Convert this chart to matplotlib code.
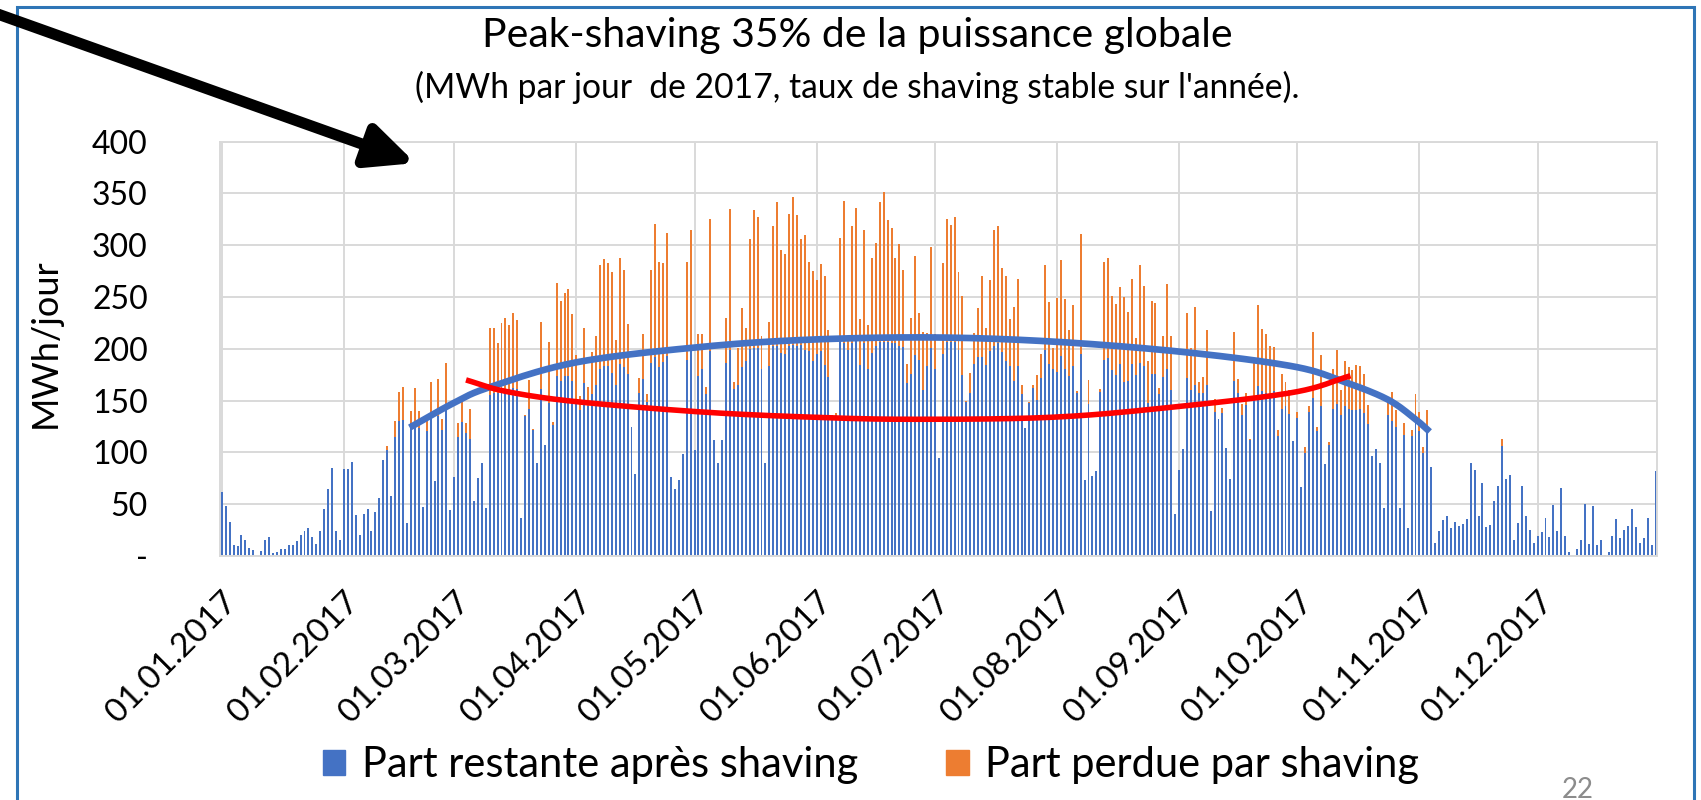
import numpy as np
import matplotlib
matplotlib.use("Agg")
import matplotlib.pyplot as plt
from matplotlib.patches import Rectangle, FancyArrowPatch, Patch

plt.rcParams['font.family'] = ['Lato', 'DejaVu Sans']

# daily values, MWh/jour, one list per month
restante = [
    # jan
    62, 48, 33, 11, 10, 20, 15, 8, 6, 0, 5, 15, 18, 3, 4, 7, 7, 11, 11, 14, 20, 24, 27, 18, 12, 24, 45, 65, 85, 24, 15,
    # feb
    84, 84, 91, 40, 20, 41, 45, 24, 42, 56, 93, 102, 58, 115, 130, 131, 32, 128, 128, 124, 47, 121, 135, 72, 135, 122, 141, 44,
    # mar
    76, 115, 129, 119, 113, 53, 75, 90, 46, 155, 157, 157, 157, 158, 161, 162, 161, 37, 135, 142, 122, 90, 161, 107, 148, 126, 174, 169, 174, 174, 169,
    # apr
    149, 141, 167, 145, 156, 165, 181, 183, 183, 177, 165, 185, 182, 176, 125, 79, 157, 171, 149, 186, 192, 182, 187, 193, 76, 65, 73, 98, 189, 198,
    # may
    102, 174, 181, 156, 198, 112, 90, 112, 186, 199, 161, 165, 182, 188, 200, 201, 201, 181, 90, 183, 203, 203, 196, 195, 203, 204, 203, 204, 199, 198, 188,
    # jun
    195, 198, 184, 173, 136, 136, 207, 206, 199, 206, 210, 184, 206, 181, 196, 203, 207, 207, 207, 206, 206, 203, 202, 167, 176, 194, 189, 160, 183, 201,
    # jul
    181, 95, 195, 207, 207, 207, 199, 175, 149, 157, 185, 192, 192, 184, 198, 203, 206, 197, 188, 183, 169, 183, 156, 124, 148, 162, 151, 172, 199, 185, 181,
    # aug
    178, 193, 181, 174, 183, 157, 195, 73, 147, 77, 82, 158, 189, 191, 180, 175, 185, 168, 169, 185, 175, 186, 183, 148, 176, 176, 156, 173, 181, 160, 41,
    # sep
    83, 103, 172, 160, 165, 157, 157, 165, 43, 139, 132, 138, 104, 74, 169, 157, 136, 146, 112, 154, 164, 159, 157, 154, 159, 116, 142, 145, 137, 111,
    # oct
    133, 67, 99, 139, 153, 121, 145, 89, 107, 142, 147, 136, 145, 142, 141, 141, 142, 138, 127, 97, 103, 90, 46, 136, 130, 125, 46, 117, 27, 116, 128,
    # nov
    121, 99, 119, 86, 13, 24, 35, 39, 27, 33, 29, 31, 36, 90, 83, 39, 70, 28, 30, 53, 68, 106, 74, 78, 15, 32, 68, 39, 25, 13,
    # dec
    19, 23, 37, 18, 49, 24, 66, 19, 4, 0, 7, 15, 50, 12, 48, 11, 15, 1, 4, 19, 36, 17, 25, 29, 45, 28, 13, 17, 37, 11, 82,
]
perdue = [
    # jan
    0, 0, 0, 0, 0, 0, 0, 0, 0, 0, 0, 0, 0, 0, 0, 0, 0, 0, 0, 0, 0, 0, 0, 0, 0, 0, 0, 0, 0, 0, 0,
    # feb
    0, 0, 0, 0, 0, 0, 0, 0, 0, 0, 0, 4, 0, 15, 28, 32, 0, 12, 34, 16, 0, 11, 33, 0, 36, 10, 45, 0,
    # mar
    0, 13, 20, 9, 29, 0, 0, 0, 0, 65, 63, 49, 68, 72, 62, 73, 67, 0, 1, 28, 1, 0, 65, 0, 59, 3, 90, 77, 80, 84, 65,
    # apr
    45, 13, 53, 18, 41, 47, 100, 104, 100, 97, 44, 103, 94, 48, 0, 0, 15, 43, 7, 90, 129, 102, 96, 119, 0, 0, 0, 0, 95, 117,
    # may
    0, 40, 33, 7, 127, 0, 0, 0, 44, 136, 7, 36, 57, 32, 106, 133, 126, 31, 0, 43, 116, 139, 99, 97, 127, 143, 126, 102, 111, 86, 87,
    # jun
    71, 84, 86, 45, 0, 2, 100, 137, 13, 113, 126, 45, 109, 42, 92, 99, 135, 144, 117, 111, 82, 98, 74, 18, 54, 96, 46, 56, 32, 97,
    # jul
    33, 0, 88, 118, 113, 120, 75, 76, 1, 20, 30, 47, 78, 36, 68, 112, 113, 81, 82, 46, 71, 84, 9, 0, 1, 3, 24, 23, 82, 60, 20,
    # aug
    71, 93, 67, 44, 59, 2, 116, 0, 23, 0, 0, 3, 95, 97, 71, 68, 75, 82, 67, 82, 35, 95, 78, 40, 70, 68, 6, 39, 82, 52, 0,
    # sep
    0, 0, 63, 41, 75, 11, 16, 53, 0, 13, 0, 5, 0, 0, 47, 14, 11, 11, 1, 36, 78, 60, 57, 49, 43, 6, 34, 23, 23, 0,
    # oct
    6, 0, 6, 6, 63, 4, 49, 0, 3, 39, 52, 24, 43, 40, 39, 43, 41, 38, 19, 0, 0, 0, 0, 17, 28, 16, 0, 11, 0, 6, 28,
    # nov
    18, 6, 22, 0, 0, 0, 0, 0, 0, 0, 0, 0, 0, 0, 0, 0, 0, 0, 0, 0, 0, 7, 0, 0, 0, 0, 0, 0, 0, 0,
    # dec
    0, 0, 0, 0, 0, 0, 0, 0, 0, 0, 0, 0, 0, 0, 0, 0, 0, 0, 0, 0, 0, 0, 0, 0, 0, 0, 0, 0, 0, 0, 0,
]
month_start = [0, 31, 59, 90, 120, 151, 181, 212, 243, 273, 304, 334]
month_labels = ['01.%02d.2017' % m for m in range(1, 13)]
y_ticks = [0, 50, 100, 150, 200, 250, 300, 350, 400]

# hand drawn trend curves (day of year, MWh)
arc_bleu = [(47.7, 124), (59, 148), (68, 163), (90, 187), (122, 202), (150, 209), (181, 211),
            (211, 207), (244, 197), (272, 183), (285, 168), (296, 151), (303, 132), (306.6, 120)]
arc_rouge = [(62, 170), (72, 159), (90, 149), (122, 139), (150, 134), (175, 132), (211, 134),
             (242, 144), (272, 158), (286.5, 174)]


def smooth(pts, n=20):
    p = np.array(pts, float)
    p = np.vstack([2 * p[0] - p[1], p, 2 * p[-1] - p[-2]])
    out = []
    t = np.linspace(0, 1, n, endpoint=False)[:, None]
    for i in range(1, len(p) - 2):
        p0, p1, p2, p3 = p[i - 1], p[i], p[i + 1], p[i + 2]
        out.append(0.5 * (2 * p1 + (-p0 + p2) * t + (2 * p0 - 5 * p1 + 4 * p2 - p3) * t ** 2
                          + (-p0 + 3 * p1 - 3 * p2 + p3) * t ** 3))
    out.append(p[-2][None])
    return np.vstack(out)


W, H = 1701, 800
fig = plt.figure(figsize=(W / 100, H / 100), dpi=100)
ax = fig.add_axes([220 / W, 1 - 556 / H, (1657 - 220) / W, (556 - 141.7) / H])

days = np.arange(len(restante))
blue = '#4472C4'
orange = '#ED7D31'
ax.bar(days, restante, width=0.5, color=blue, lw=0, zorder=2)
ax.bar(days, perdue, bottom=restante, width=0.5, color=orange, lw=0, zorder=2)

cb = smooth(arc_bleu)
cr = smooth(arc_rouge)
ax.plot(cb[:, 0], cb[:, 1], color=blue, lw=4.8, solid_capstyle='butt', zorder=4)
ax.plot(cr[:, 0], cr[:, 1], color='#FF0000', lw=4.0, solid_capstyle='butt', zorder=5)

ax.set_xlim(-0.45, 364.3)
ax.set_ylim(0, 400)
ax.set_yticks(y_ticks)
ax.set_yticklabels(['-' if v == 0 else str(v) for v in y_ticks])
ax.set_xticks(month_start)
ax.set_xticklabels(month_labels, rotation=45, ha='right', va='top', rotation_mode='anchor')
ax.tick_params(axis='y', length=0, pad=52, labelsize=23)
ax.tick_params(axis='x', length=0, pad=22, labelsize=24)
ax.grid(True, color='#D9D9D9', lw=1.4, zorder=0)
ax.set_axisbelow(True)
for s in ax.spines.values():
    s.set_color('#D9D9D9')
    s.set_linewidth(1.4)

fig.text(45 / W, 1 - 343 / H, 'MWh/jour', rotation=90, ha='center', va='center', fontsize=26)
fig.text(857 / W, 1 - 36 / H, 'Peak-shaving 35% de la puissance globale',
         ha='center', va='center', fontsize=29.5)
fig.text(857 / W, 1 - 87 / H, "(MWh par jour  de 2017, taux de shaving stable sur l'année).",
         ha='center', va='center', fontsize=24.2)

handles = [Patch(color=blue), Patch(color=orange)]
fig.legend(handles, ['Part restante après shaving', 'Part perdue par shaving'],
           loc='center', bbox_to_anchor=(871 / W, 1 - 765 / H), ncol=2, frameon=False,
           fontsize=30, handlelength=0.55, handleheight=0.55, handletextpad=0.4,
           columnspacing=2.1)

fig.text(1578 / W, 1 - 790 / H, '22', ha='center', va='center', fontsize=20, color='#8C8C8C')

fig.add_artist(Rectangle((17 / W, -0.05), (1694 - 17) / W, 1.05 - 7 / H, fill=False,
                         ec='#2E75B6', lw=2.2, transform=fig.transFigure))
fig.add_artist(FancyArrowPatch((-8 / W, 1 - 12 / H), (418 / W, 1 - 164 / H),
                               arrowstyle='-|>,head_length=28,head_width=13', mutation_scale=1,
                               lw=8, color='black', transform=fig.transFigure))

fig.savefig('out.png', dpi=100)
